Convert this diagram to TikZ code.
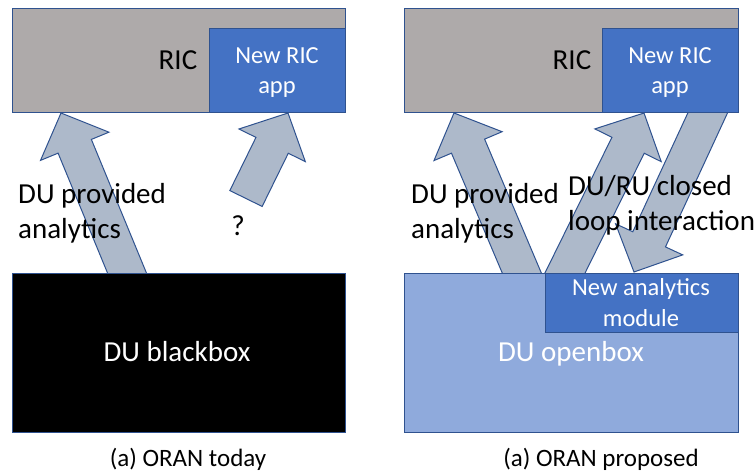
\documentclass[tikz,border=0pt]{standalone}
\usepackage{fontspec}
\setmainfont{Carlito}
\usetikzlibrary{calc}
\definecolor{ricgray}{HTML}{AEAAAA}
\definecolor{appblue}{HTML}{4472C4}
\definecolor{openblue}{HTML}{8FAADC}
\definecolor{arrfill}{HTML}{ADB9CA}
\definecolor{edgeblue}{HTML}{2F528F}
\newcommand\blockarrow[2]{%
  \coordinate (hb) at ($(#2)!36pt!(#1)$);
  \draw[blockarr] ($(#1)!18pt!90:(#2)$) -- ($(hb)!18pt!90:(#2)$) -- ($(hb)!37pt!90:(#2)$) -- (#2)
     -- ($(hb)!37pt!-90:(#2)$) -- ($(hb)!18pt!-90:(#2)$) -- ($(#1)!18pt!-90:(#2)$) -- cycle;}
\begin{document}
\begin{tikzpicture}[x=1pt,y=-1pt,
  box/.style={draw=edgeblue,line width=1.2pt,anchor=north west,inner sep=0pt},
  blockarr/.style={fill=arrfill,draw=edgeblue,line width=1pt,line join=miter},
  big/.style={font=\fontsize{29}{35}\selectfont,inner sep=0pt},
  small/.style={font=\fontsize{24.5}{31}\selectfont,inner sep=0pt,text=white},
  captxt/.style={font=\fontsize{25}{30}\selectfont,inner sep=0pt}]
\useasboundingbox (0,0) rectangle (756,475);

% arrow end points
\coordinate (t1) at (61,113);   \coordinate (s1) at (134,290);
\coordinate (t2) at (288,113);  \coordinate (s2) at (246,198.5);
\coordinate (t3) at (454,113);  \coordinate (s3) at (529,290);
\coordinate (t4) at (644,113);  \coordinate (s4) at (556.6,290);
\coordinate (t5) at (634,272);  \coordinate (s5) at (716,95);

\blockarrow{s1}{t1}
\blockarrow{s2}{t2}
\blockarrow{s3}{t3}
\blockarrow{s4}{t4}
\blockarrow{s5}{t5}

% left panel boxes
\node[box,fill=ricgray,minimum width=333,minimum height=104] (ricL) at (12,8) {};
\node[box,fill=appblue,minimum width=136,minimum height=84] (appL) at (209,28) {};
\node[box,fill=black,minimum width=333,minimum height=159] (duL) at (12,273) {};

% right panel boxes
\node[box,fill=ricgray,minimum width=334,minimum height=104] (ricR) at (404,8) {};
\node[box,fill=appblue,minimum width=136,minimum height=84] (appR) at (602,28) {};
\node[box,fill=openblue,minimum width=334,minimum height=159] (duR) at (404,273) {};
\node[box,fill=appblue,minimum width=193,minimum height=59] (modR) at (545,273) {};

% texts left
\node[big,anchor=base] (ricLt) at (178,69.5) {RIC};
\node[small,anchor=base] (appLt1) at (277,63.3) {New RIC};
\node[small,anchor=base] (appLt2) at (277,93.5) {app};
\node[big,anchor=base west] (duprovL1) at (18,203.3) {DU provided};
\node[big,anchor=base west] (duprovL2) at (18,238) {analytics};
\node[big,anchor=base] (qm) at (238,235) {?};
\node[big,anchor=base,text=white] (duLt) at (177,361.5) {DU blackbox};
\node[captxt,anchor=base] (capL) at (188,466) {(a) ORAN today};

% texts right
\node[big,anchor=base] (ricRt) at (572,69.5) {RIC};
\node[small,anchor=base] (appRt1) at (670,63.3) {New RIC};
\node[small,anchor=base] (appRt2) at (670,93.5) {app};
\node[big,anchor=base west] (duprovR1) at (411,203.3) {DU provided};
\node[big,anchor=base west] (duprovR2) at (411,238) {analytics};
\node[big,anchor=base west] (loop1) at (568,195) {DU/RU closed};
\node[big,anchor=base west] (loop2) at (568,230) {loop interaction};
\node[small,anchor=base] (modRt1) at (641,295.5) {New analytics};
\node[small,anchor=base] (modRt2) at (641,326.5) {module};
\node[big,anchor=base,text=white] (duRt) at (571,361) {DU openbox};
\node[captxt,anchor=base] (capR) at (601,466) {(a) ORAN proposed};
\end{tikzpicture}
\end{document}
